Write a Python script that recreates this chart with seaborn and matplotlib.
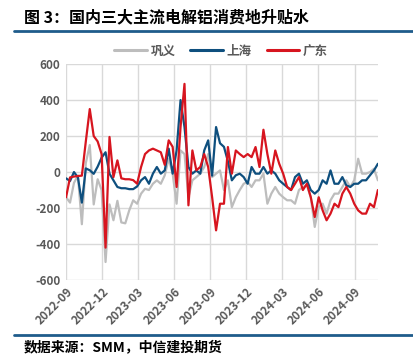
import numpy as np
import pandas as pd
import matplotlib
matplotlib.use("Agg")
import matplotlib.pyplot as plt
import matplotlib.dates as mdates
from matplotlib.lines import Line2D
import seaborn as sns

# ---- data (10-day sampling) ----
start_date = "2022-09-01"
gongyi = [-140, -170, -60, -20, -290, 50, 150, -180, -40, -100,
          -500, -180, -268, -160, -280, -285, -213, -157, -176, -120,
          -93, -100, -65, -46, -65, -18, 74, -9, -176, 120,
          100, -140, -46, -28, -9, 28, 100, -28, -9, 9,
          -100, -46, -195, -140, -100, -65, -55, -83, -46, -46,
          -9, -176, -120, -83, -120, -140, -157, -157, -176, -100,
          -83, -74, -140, -305, -195, -176, -231, -157, -120, -120,
          -83, -46, -83, -46, 74, -9, -9, 0, 18, -46]
shanghai = [-35, -50, 0, -30, -170, 20, 10, -10, 30, 80,
            110, -9, -46, -83, -90, -90, -95, -95, -80, -46,
            -28, -65, -9, 28, -9, 9, 130, -9, 120, 400,
            250, 28, -9, 9, -9, 120, 176, -20, 250, 160,
            140, 60, -46, -18, -9, -28, -65, 28, -9, -9,
            28, -9, 9, -9, -46, -65, -83, -100, -28, -9,
            -65, -46, -100, -120, -100, -46, -65, 9, -65, -65,
            -28, -74, -83, -65, -65, -46, -46, -18, 9, 46]
guangdong = [-140, -30, -25, -22, -20, 170, 350, 200, 170, 100,
             -420, 195, -28, 65, -35, -40, -40, -45, -65, 28,
             100, 120, 130, 120, 110, 40, 176, 140, -83, 250,
             490, -185, 120, 10, 28, 100, 28, -140, -324, -176,
             -176, 139, -9, 120, 100, 83, 100, 83, 139, 28,
             235, 100, -9, 120, 46, -9, -83, -100, -65, -28,
             -100, -65, -140, -250, -140, -213, -268, -231, -176, -195,
             -120, -83, -120, -176, -213, -231, -231, -176, -195, -100]
series_names = ["巩义", "上海", "广东"]
y_ticks = [600, 400, 200, 0, -200, -400, -600]

dates = pd.date_range(start_date, periods=len(gongyi), freq="10D")
df = pd.concat([
    pd.DataFrame({"date": dates, "value": vals, "地区": name})
    for name, vals in zip(series_names, [gongyi, shanghai, guangdong])
], ignore_index=True)

sns.set_theme(style="white")
plt.rcParams["font.family"] = ["Noto Sans CJK SC", "DejaVu Sans"]
plt.rcParams["axes.unicode_minus"] = False

fig = plt.figure(figsize=(4.13, 3.54), dpi=100)
ax = fig.add_axes([0.160, 0.209, 0.755, 0.610])

palette = {"巩义": "#BDBDBD", "上海": "#0E4F7E", "广东": "#D7151F"}
sns.lineplot(data=df, x="date", y="value", hue="地区", hue_order=series_names,
             palette=palette, linewidth=1.6, ax=ax, legend=True)

ax.set_xlim(dates[0], dates[-1])
ax.set_ylim(-600, 600)
ax.set_yticks(y_ticks)
ax.xaxis.set_major_locator(mdates.MonthLocator(bymonth=[3, 6, 9, 12]))
ax.xaxis.set_major_formatter(mdates.DateFormatter("%Y-%m"))
ax.set_xlabel("")
ax.set_ylabel("")
ax.grid(True, color="#D9D9D9", linewidth=1.0)
ax.set_axisbelow(True)
for s in ax.spines.values():
    s.set_visible(False)
ax.tick_params(axis="both", length=0, labelsize=8.5, colors="#595959", pad=4)
for lab in ax.get_yticklabels():
    lab.set_fontweight("bold")
for lab in ax.get_xticklabels():
    lab.set_fontweight("bold")
    lab.set_rotation(45)
    lab.set_ha("right")
    lab.set_rotation_mode("anchor")

leg = ax.legend(loc="lower center", bbox_to_anchor=(0.497, 1.0), ncol=3, frameon=False,
                fontsize=9, handlelength=2.6, columnspacing=1.2, handletextpad=0.3,
                borderaxespad=0.1)
for t in leg.get_texts():
    t.set_color("#595959")
    t.set_fontweight("bold")
for h in leg.get_lines():
    h.set_linewidth(2.2)

fig.text(0.058, 1 - 17 / 354, "图 3：国内三大主流电解铝消费地升贴水", fontsize=11.5,
         fontweight="bold", color="#000000", va="center", ha="left")
fig.add_artist(Line2D([0.034, 1.0], [1 - 31 / 354] * 2, color="#1F5C8B", linewidth=2))
fig.add_artist(Line2D([0.034, 1.0], [1 - 335 / 354] * 2, color="#1F5C8B", linewidth=2))
fig.text(0.058, 1 - 347 / 354, "数据来源：SMM，中信建投期货", fontsize=10,
         fontweight="bold", style="italic", color="#000000", va="center", ha="left")

fig.savefig("out.png", dpi=100)
